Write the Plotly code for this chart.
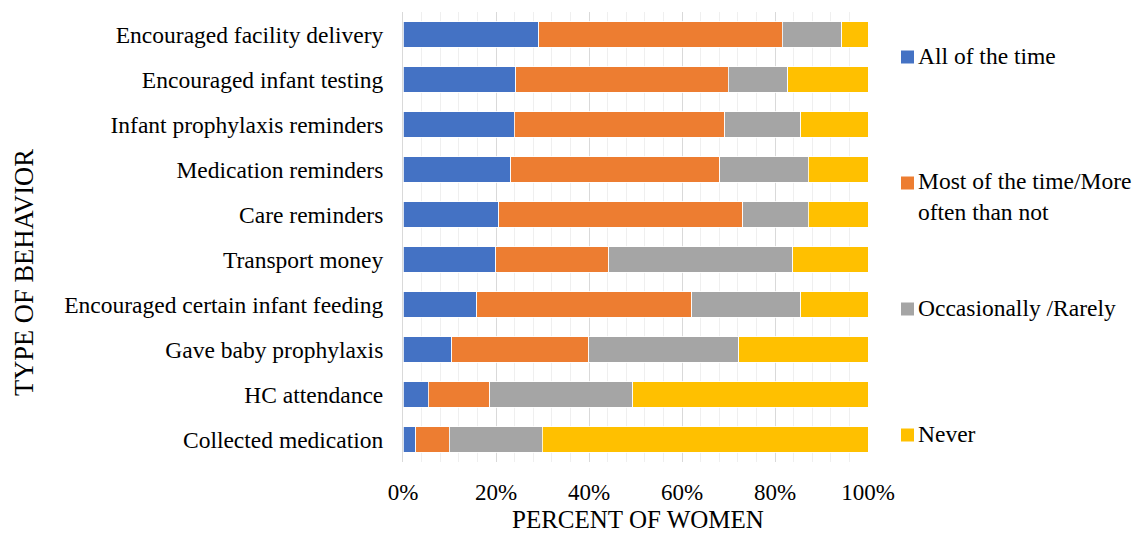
import plotly.graph_objects as go

categories = [
    "Encouraged facility delivery",
    "Encouraged infant testing",
    "Infant prophylaxis reminders",
    "Medication reminders",
    "Care reminders",
    "Transport money",
    "Encouraged certain infant feeding",
    "Gave baby prophylaxis",
    "HC attendance",
    "Collected medication",
]
all_time = [29.2, 24.2, 23.9, 23.2, 20.6, 19.9, 15.9, 10.5, 5.4, 2.7]
most_time = [52.4, 45.7, 45.3, 44.9, 52.5, 24.3, 46.2, 29.4, 13.3, 7.2]
occasionally = [12.7, 12.8, 16.3, 19.1, 14.1, 39.6, 23.4, 32.3, 30.7, 20.0]
never = [5.7, 17.3, 14.5, 12.8, 12.8, 16.2, 14.5, 27.8, 50.6, 70.1]

series_names = ["All of the time", "Most of the time/More<br>often than not",
                "Occasionally /Rarely", "Never"]
series_values = [all_time, most_time, occasionally, never]
colors = ["#4472C4", "#ED7D31", "#A5A5A5", "#FFC000"]
x_ticks = [0, 20, 40, 60, 80, 100]
x_ticklabels = ["0%", "20%", "40%", "60%", "80%", "100%"]

FONT = "Liberation Serif"

fig = go.Figure()
for name, vals, col in zip(series_names, series_values, colors):
    fig.add_trace(go.Bar(
        y=categories, x=vals, name=name, orientation="h",
        marker=dict(color=col, line=dict(color="white", width=0.8)),
        showlegend=False,
    ))

W, H = 1148, 535
L, R, T, B = 403, 868, 12, 462


def px(x):
    return (x - L) / (R - L)


def py(y):
    return (B - y) / (B - T)


annotations = []
shapes = []
legend_y = [57, 183, 309, 435]
text_y = [56, 196, 308, 434]
for name, col, ly, ty in zip(series_names, colors, legend_y, text_y):
    shapes.append(dict(type="rect", xref="paper", yref="paper",
                       x0=px(901), x1=px(914), y0=py(ly + 6.5), y1=py(ly - 6.5),
                       fillcolor=col, line=dict(width=0)))
    annotations.append(dict(text=name, xref="paper", yref="paper",
                            x=px(917), y=py(ty), xanchor="left", yanchor="middle",
                            showarrow=False, align="left", borderpad=0,
                            font=dict(family=FONT, size=23.5, color="#000")))

annotations.append(dict(text="PERCENT OF WOMEN", xref="paper", yref="paper",
                        x=px(638), y=py(519), xanchor="center", yanchor="middle",
                        showarrow=False, borderpad=0,
                        font=dict(family=FONT, size=25, color="#000")))
annotations.append(dict(text="TYPE OF BEHAVIOR", xref="paper", yref="paper",
                        x=px(24), y=py(273), xanchor="center", yanchor="middle",
                        textangle=-90, showarrow=False, borderpad=0,
                        font=dict(family=FONT, size=26.5, color="#000")))

fig.update_layout(
    barmode="stack",
    bargap=0.44,
    width=W, height=H,
    margin=dict(l=L, r=W - R, t=T, b=H - B, autoexpand=False),
    paper_bgcolor="white", plot_bgcolor="white",
    font=dict(family=FONT, size=23, color="#000"),
    annotations=annotations,
    shapes=shapes,
    xaxis=dict(range=[0, 100], tickvals=x_ticks, ticktext=x_ticklabels,
               showgrid=True, gridcolor="#d9d9d9", gridwidth=1,
               minor=dict(dtick=4, showgrid=True, gridcolor="#efefef", gridwidth=1),
               zeroline=False, showline=False, ticks="",
               ticklabelstandoff=14,
               tickfont=dict(family=FONT, size=23, color="#000"),
               fixedrange=True),
    yaxis=dict(autorange="reversed", showgrid=False, zeroline=False,
               showline=True, linecolor="#d9d9d9", linewidth=1,
               ticks="", ticklabelstandoff=14,
               tickfont=dict(family=FONT, size=23.5, color="#000"),
               fixedrange=True),
)

fig.write_html("out.html")
